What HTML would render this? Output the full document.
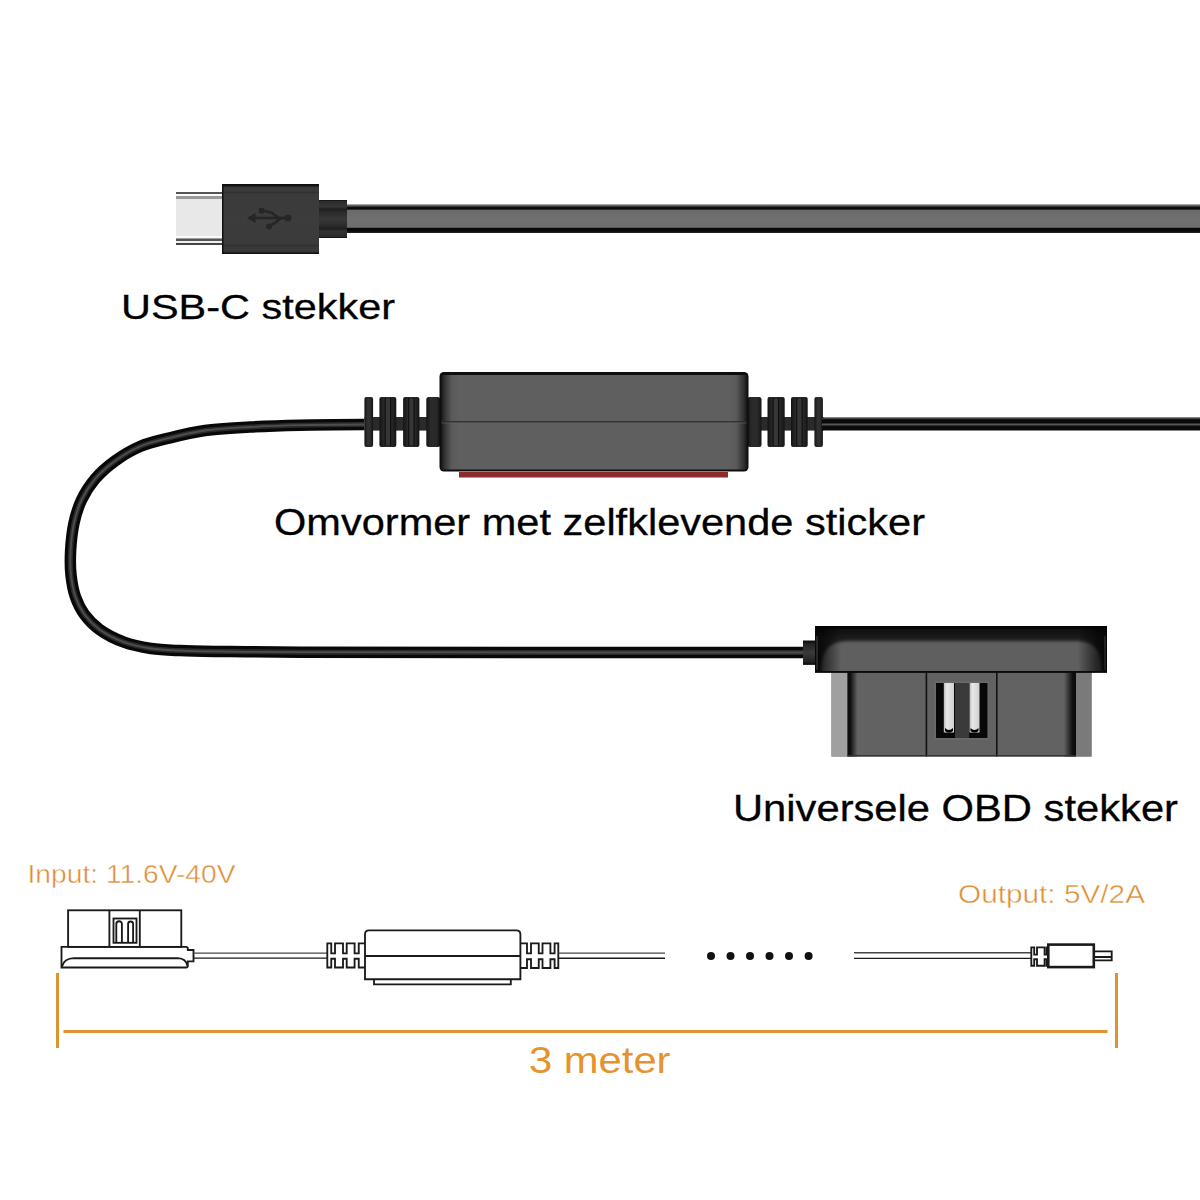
<!DOCTYPE html>
<html><head><meta charset="utf-8">
<style>
html,body{margin:0;padding:0;background:#fff;width:1200px;height:1200px;overflow:hidden}
svg{display:block;position:absolute;left:0;top:0}
text{font-family:"Liberation Sans",sans-serif}
</style></head>
<body>
<svg width="1200" height="1200" viewBox="0 0 1200 1200">
<defs>
  <linearGradient id="grom" x1="0" y1="0" x2="0" y2="1"><stop offset="0" stop-color="#1a1a1a"/><stop offset="0.25" stop-color="#2a2a2a"/><stop offset="0.5" stop-color="#3a3a3a"/><stop offset="0.75" stop-color="#2a2a2a"/><stop offset="1" stop-color="#1a1a1a"/></linearGradient>
  <linearGradient id="capdark" x1="0" y1="0" x2="0" y2="1"><stop offset="0" stop-color="#0a0a0a"/><stop offset="0.3" stop-color="#1e1e1e"/><stop offset="1" stop-color="#141414"/></linearGradient>
  <filter id="ib" x="-20%" y="-50%" width="140%" height="200%"><feGaussianBlur stdDeviation="0.7"/></filter>
  <clipPath id="capclip"><rect x="815" y="626" width="292" height="46"/></clipPath>
  <linearGradient id="bl" x1="0" y1="0" x2="1" y2="0"><stop offset="0" stop-color="#0a0a0a"/><stop offset="0.3" stop-color="#111"/><stop offset="1" stop-color="#626262"/></linearGradient>
  <linearGradient id="br" x1="0" y1="0" x2="1" y2="0"><stop offset="0" stop-color="#626262"/><stop offset="0.7" stop-color="#111"/><stop offset="1" stop-color="#0a0a0a"/></linearGradient>
  <filter id="soft" x="-10%" y="-50%" width="120%" height="200%"><feGaussianBlur stdDeviation="1.6"/></filter>
  <path id="cab" d="M364.0 424.5 C364.0 424.5 320.0 424.7 300.0 425.2 C282.3 425.6 266.2 426.1 250.0 427.0 C234.6 427.9 219.0 428.5 205.0 430.5 C192.5 432.3 181.2 435.0 170.0 437.8 C159.6 440.4 149.3 442.5 140.0 446.5 C131.0 450.3 122.6 455.5 115.0 461.0 C107.7 466.3 100.7 472.4 95.0 479.0 C89.6 485.4 85.0 492.6 81.5 500.0 C78.0 507.3 75.8 514.9 74.0 523.0 C72.1 531.8 71.1 542.0 70.6 551.0 C70.2 559.3 70.1 567.2 71.0 575.0 C71.8 582.5 73.1 590.2 75.5 597.0 C77.7 603.3 80.6 609.2 84.5 614.5 C88.5 620.0 93.5 625.1 99.5 629.5 C106.4 634.5 115.4 639.0 124.0 642.2 C132.6 645.4 141.8 647.1 151.0 648.5 C160.4 649.9 169.0 650.1 180.0 650.6 C194.4 651.3 211.9 651.3 230.0 651.6 C251.4 651.9 266.0 652.0 300.0 652.2 C391.1 652.6 803.0 652.5 803.0 652.5"/>
  <linearGradient id="flat" x1="0" y1="0" x2="0" y2="1">
    <stop offset="0" stop-color="#555"/>
    <stop offset="0.05" stop-color="#666"/>
    <stop offset="0.09" stop-color="#111"/>
    <stop offset="0.16" stop-color="#080808"/>
    <stop offset="0.2" stop-color="#6a6a6a"/>
    <stop offset="0.5" stop-color="#707070"/>
    <stop offset="0.8" stop-color="#6c6c6c"/>
    <stop offset="0.84" stop-color="#060606"/>
    <stop offset="0.94" stop-color="#0a0a0a"/>
    <stop offset="1" stop-color="#2a2a2a"/>
  </linearGradient>
  <linearGradient id="metal" x1="0" y1="0" x2="0" y2="1">
    <stop offset="0" stop-color="#555"/>
    <stop offset="0.032" stop-color="#555"/>
    <stop offset="0.042" stop-color="#fafafa"/>
    <stop offset="0.072" stop-color="#fafafa"/>
    <stop offset="0.08" stop-color="#999"/>
    <stop offset="0.124" stop-color="#9a9a9a"/>
    <stop offset="0.138" stop-color="#e8e8e8"/>
    <stop offset="0.83" stop-color="#e8e8e8"/>
    <stop offset="0.84" stop-color="#fafafa"/>
    <stop offset="0.87" stop-color="#fafafa"/>
    <stop offset="0.883" stop-color="#555"/>
    <stop offset="0.92" stop-color="#555"/>
    <stop offset="0.934" stop-color="#eee"/>
    <stop offset="0.958" stop-color="#eee"/>
    <stop offset="0.968" stop-color="#444"/>
    <stop offset="1" stop-color="#444"/>
  </linearGradient>
  <linearGradient id="usbbody" x1="0" y1="0" x2="0" y2="1">
    <stop offset="0" stop-color="#0a0a0a"/>
    <stop offset="0.03" stop-color="#1a1a1a"/>
    <stop offset="0.05" stop-color="#3a3a3a"/>
    <stop offset="0.1" stop-color="#3a3a3a"/>
    <stop offset="0.12" stop-color="#303030"/>
    <stop offset="0.14" stop-color="#3a3a3a"/>
    <stop offset="0.5" stop-color="#3c3c3c"/>
    <stop offset="0.86" stop-color="#3a3a3a"/>
    <stop offset="0.88" stop-color="#2e2e2e"/>
    <stop offset="0.9" stop-color="#393939"/>
    <stop offset="0.96" stop-color="#393939"/>
    <stop offset="1" stop-color="#0a0a0a"/>
  </linearGradient>
  <linearGradient id="neck" x1="0" y1="0" x2="0" y2="1">
    <stop offset="0" stop-color="#0a0a0a"/>
    <stop offset="0.03" stop-color="#2a2a2a"/>
    <stop offset="0.18" stop-color="#363636"/>
    <stop offset="0.24" stop-color="#1e1e1e"/>
    <stop offset="0.32" stop-color="#2a2a2a"/>
    <stop offset="0.5" stop-color="#383838"/>
    <stop offset="0.68" stop-color="#2a2a2a"/>
    <stop offset="0.76" stop-color="#1e1e1e"/>
    <stop offset="0.82" stop-color="#333"/>
    <stop offset="0.96" stop-color="#2a2a2a"/>
    <stop offset="1" stop-color="#0a0a0a"/>
  </linearGradient>
  <linearGradient id="boxh" x1="0" y1="0" x2="1" y2="0">
    <stop offset="0" stop-color="#151515"/>
    <stop offset="0.012" stop-color="#333"/>
    <stop offset="0.035" stop-color="#5a5a5a"/>
    <stop offset="0.06" stop-color="#5f5f5f"/>
    <stop offset="0.94" stop-color="#5f5f5f"/>
    <stop offset="0.965" stop-color="#5a5a5a"/>
    <stop offset="0.988" stop-color="#333"/>
    <stop offset="1" stop-color="#151515"/>
  </linearGradient>
  <linearGradient id="fin" x1="0" y1="0" x2="1" y2="0">
    <stop offset="0" stop-color="#141414"/>
    <stop offset="0.3" stop-color="#2a2a2a"/>
    <stop offset="0.7" stop-color="#2a2a2a"/>
    <stop offset="1" stop-color="#141414"/>
  </linearGradient>
  <linearGradient id="capv" x1="0" y1="0" x2="0" y2="1">
    <stop offset="0" stop-color="#050505"/>
    <stop offset="0.1" stop-color="#151515"/>
    <stop offset="0.3" stop-color="#222"/>
    <stop offset="0.34" stop-color="#555"/>
    <stop offset="0.5" stop-color="#5f5f5f"/>
    <stop offset="0.92" stop-color="#5c5c5c"/>
    <stop offset="1" stop-color="#111"/>
  </linearGradient>
  <linearGradient id="caph" x1="0" y1="0" x2="1" y2="0">
    <stop offset="0" stop-color="#000" stop-opacity="0.7"/>
    <stop offset="0.03" stop-color="#000" stop-opacity="0.55"/>
    <stop offset="0.09" stop-color="#000" stop-opacity="0"/>
    <stop offset="0.9" stop-color="#000" stop-opacity="0"/>
    <stop offset="0.965" stop-color="#000" stop-opacity="0.6"/>
    <stop offset="1" stop-color="#000" stop-opacity="0.75"/>
  </linearGradient>
  <linearGradient id="pin" x1="0" y1="0" x2="1" y2="0">
    <stop offset="0" stop-color="#bbb"/>
    <stop offset="0.3" stop-color="#e8e8e8"/>
    <stop offset="1" stop-color="#cfcfcf"/>
  </linearGradient>
</defs>

<!-- ===== USB-C plug ===== -->
<g id="usbc">
  <rect x="176" y="192" width="47" height="53" fill="url(#metal)"/>
  <rect x="222" y="184" width="97" height="70" fill="url(#usbbody)"/><rect x="222" y="184" width="1.5" height="70" fill="#111"/>
  <g fill="none" stroke="#252525" stroke-width="2.7" stroke-linecap="round" stroke-linejoin="round" filter="url(#ib)">
    <path d="M252 218 H287"/>
    <path d="M262 210.5 L271 212.5 L279 218"/>
    <path d="M269 226 L275 223 L281 218"/>
  </g>
  <g fill="#252525" filter="url(#ib)">
    <path d="M247 218 L255.5 213 L255.5 223 Z"/>
    <rect x="258.8" y="208" width="5.4" height="5.4" rx="1"/>
    <circle cx="269" cy="226.5" r="3"/>
    <circle cx="288" cy="218" r="3.6"/>
  </g>
  <rect x="319" y="200" width="28" height="38" fill="url(#neck)"/>
  <rect x="347" y="204.5" width="853" height="28.5" fill="url(#flat)"/>
</g>

<!-- ===== cable loop ===== -->
<g id="loop" fill="none" stroke-linecap="butt">
  <use href="#cab" stroke="#080808" stroke-width="11.5"/>
  <use href="#cab" stroke="#2a2a2a" stroke-width="5"/>
  <use href="#cab" stroke="#4e4e4e" stroke-width="1.8"/>
</g>

<!-- ===== converter ===== -->
<g id="conv">
  <!-- left strain relief -->
  <rect x="364.4" y="417" width="75" height="13.6" fill="#2a2a2a"/>
  <g fill="url(#fin)">
    <rect x="364.4" y="397" width="8.7" height="50" rx="2"/>
    <rect x="379.4" y="397" width="16.9" height="50" rx="2"/>
    <rect x="403.1" y="397" width="16.3" height="50" rx="2"/>
    <rect x="426.3" y="397" width="14" height="50" rx="2.5"/>
  </g>
  <g fill="#0e0e0e">
    <rect x="384.6" y="398" width="1.2" height="48"/><rect x="390" y="398" width="1.2" height="48"/>
    <rect x="408.2" y="398" width="1.2" height="48"/><rect x="413.4" y="398" width="1.2" height="48"/>
  </g>
  <g fill="#363636">
    <rect x="385.8" y="399" width="4.2" height="46"/><rect x="409.4" y="399" width="4" height="46"/>
    <rect x="367" y="399" width="3" height="46" opacity="0.6"/>
  </g>
  <!-- right strain relief -->
  <rect x="748.5" y="417" width="75" height="13.6" fill="#2a2a2a"/>
  <g fill="url(#fin)">
    <rect x="747.5" y="397" width="14" height="50" rx="2.5"/>
    <rect x="767.5" y="397" width="17.2" height="50" rx="2"/>
    <rect x="791" y="397" width="16.7" height="50" rx="2"/>
    <rect x="814.4" y="397" width="8.5" height="50" rx="2"/>
  </g>
  <g fill="#0e0e0e">
    <rect x="772.6" y="398" width="1.2" height="48"/><rect x="778" y="398" width="1.2" height="48"/>
    <rect x="796.2" y="398" width="1.2" height="48"/><rect x="801.4" y="398" width="1.2" height="48"/>
  </g>
  <g fill="#363636">
    <rect x="773.8" y="399" width="4.2" height="46"/><rect x="797.4" y="399" width="4" height="46"/>
    <rect x="817" y="399" width="3" height="46" opacity="0.6"/>
  </g>
  <!-- right cable -->
  <rect x="822" y="417.5" width="378" height="13" fill="#0a0a0a"/>
  <rect x="822" y="423.5" width="378" height="2" fill="#555"/>
  <rect x="822" y="418" width="378" height="1.2" fill="#444"/>
  <!-- red sticker -->
  <rect x="459" y="472" width="269" height="5.5" fill="#8c2a2c"/>
  <!-- box -->
  <rect x="439.5" y="372" width="309" height="99.6" rx="4.5" fill="#0e0e0e"/>
  <rect x="441" y="375" width="306" height="94.5" rx="2.5" fill="url(#boxh)"/>
  <rect x="441.5" y="421.2" width="305" height="1.3" fill="#2a2a2a"/><rect x="441.5" y="422.5" width="305" height="1" fill="#666" opacity="0.6"/>
</g>

<!-- ===== OBD ===== -->
<g id="obd">
  <rect x="803" y="640.7" width="13.3" height="24" fill="url(#grom)"/>
  <rect x="803" y="640.7" width="13.3" height="2" fill="#111"/>
  <rect x="803" y="662.7" width="13.3" height="2" fill="#111"/>
  <!-- body -->
  <rect x="831.5" y="672" width="260" height="84.5" fill="#626262"/>
  <rect x="831.5" y="672" width="16" height="84.5" fill="#a0a0a0"/>
  <rect x="1076" y="672" width="15.5" height="84.5" fill="#7a7a7a"/>
  <rect x="847.5" y="672" width="10" height="84.5" fill="url(#bl)"/>
  <rect x="1064" y="672" width="12" height="84.5" fill="url(#br)"/>
  <rect x="925.6" y="672" width="1.6" height="84.5" fill="#111"/>
  <rect x="996" y="672" width="1.6" height="84.5" fill="#111"/>
  <rect x="847.5" y="755" width="228" height="1.5" fill="#333"/>
  <!-- window -->
  <rect x="934.5" y="681.5" width="54.5" height="58" fill="#6a6a6a"/>
  <rect x="936" y="683" width="51.5" height="55" fill="#080808"/>
  <rect x="955" y="683" width="14" height="55" fill="#3a3a3a"/>
  <rect x="943.8" y="683" width="10.2" height="49.5" fill="url(#pin)"/>
  <rect x="969.5" y="683" width="10" height="49.5" fill="url(#pin)"/>
  <path d="M945 728 Q949 732 953 728 L953 731 Q949 734 945 731 Z" fill="#000"/>
  <path d="M970.5 728 Q974.5 732 978.5 728 L978.5 731 Q974.5 734 970.5 731 Z" fill="#000"/>
  <!-- cap -->
  <rect x="815" y="626" width="292" height="46.5" fill="url(#capdark)"/>
  <path d="M821 675 C821 650 828 641 850 641 H1074 C1096 641 1102 650 1102 675 Z" fill="#5f5f5f" filter="url(#soft)" clip-path="url(#capclip)"/>
  <rect x="815" y="626" width="292" height="2.5" fill="#050505"/>
  <rect x="815" y="626" width="292" height="46" fill="url(#caph)"/>
  <rect x="816" y="636" width="2" height="34" fill="#3a3a3a" opacity="0.6"/>
  <rect x="1104" y="636" width="2" height="34" fill="#3a3a3a" opacity="0.5"/>
  <rect x="815" y="671" width="292" height="1.8" fill="#0a0a0a"/>
</g>

<!-- ===== labels ===== -->
<text x="121" y="319" font-size="35.8" textLength="274" stroke="#000" stroke-width="0.3" lengthAdjust="spacingAndGlyphs" fill="#000">USB-C stekker</text>
<text x="274" y="535" font-size="37.8" textLength="651" stroke="#000" stroke-width="0.3" lengthAdjust="spacingAndGlyphs" fill="#000">Omvormer met zelfklevende sticker</text>
<text x="733" y="821" font-size="37.8" textLength="445" stroke="#000" stroke-width="0.3" lengthAdjust="spacingAndGlyphs" fill="#000">Universele OBD stekker</text>

<!-- ===== bottom diagram ===== -->
<text x="27.5" y="883" font-size="26" textLength="208" lengthAdjust="spacingAndGlyphs" fill="#dd8d33" stroke="#fff" stroke-width="0.45">Input: 11.6V-40V</text>
<text x="958" y="903" font-size="25" textLength="187" lengthAdjust="spacingAndGlyphs" fill="#dd8d33" stroke="#fff" stroke-width="0.45">Output: 5V/2A</text>
<text x="529" y="1073" font-size="36.5" textLength="141.5" lengthAdjust="spacingAndGlyphs" fill="#e4932f">3 meter</text>

<g id="draw" fill="none" stroke="#1a1a1a" stroke-width="1.85" stroke-linejoin="miter">
  <!-- OBD outline -->
  <rect x="68.1" y="910.3" width="113.2" height="36.6"/>
  <path d="M109.4 910.3 V946.9 M139.8 910.3 V946.9"/>
  <rect x="113.5" y="918.5" width="23" height="24.3"/>
  <path d="M116.3 942.8 V924 A2.8 2.8 0 0 1 121.9 924 V942.8"/>
  <path d="M128.1 942.8 V924 A2.5 2.5 0 0 1 133.1 924 V942.8"/>
  <path d="M61.5 946.9 H186 Q187.8 946.9 187.8 948.5 V950 H193.5 V961.3 H187.8 V966 Q187.8 967.5 186 967.5 H61.5 Z"/>
  <path d="M62 966.5 Q64 958.5 74 958.2 H178 Q186 958.5 187.5 966"/>
  <path d="M193.5 953.1 H327.3" stroke="#444" stroke-width="1.4"/><path d="M193.5 958.1 H327.3" stroke-width="1.4"/>
  <!-- converter drawing -->
  <path d="M365 943.3 H358.75 V953.3 H354.6 V943.3 H346.7 V953.3 H343 V943.3 H335 V953.3 H331.25 V943.3 H327.3 V967.5 H331.25 V958.75 H335 V967.5 H343 V958.75 H346.7 V967.5 H354.6 V958.75 H358.75 V967.5 H365"/>
  <path d="M365 979.2 V934.4 Q365 930.4 369 930.4 H516.4 Q520.4 930.4 520.4 934.4 V979.2 Z"/>
  <path d="M365 956 H520.4"/>
  <path d="M374 979.2 V984.3 H510.8 V979.2"/>
  <path d="M520.4 943.3 H527 V953.3 H531 V943.3 H538.75 V953.3 H542.5 V943.3 H550.4 V953.3 H554.6 V943.3 H558.3 V968 H554.6 V959.2 H550.4 V968 H542.5 V959.2 H538.75 V968 H531 V959.2 H527 V968 H520.4"/>
  <path d="M558.3 953.1 H665" stroke="#444" stroke-width="1.4"/><path d="M558.3 958.3 H665" stroke-width="1.4"/>
  <path d="M854 952.8 H1031.3" stroke="#444" stroke-width="1.4"/><path d="M854 958.4 H1031.3" stroke-width="1.4"/>
  <path d="M1048 947.3 H1046.7 V954.6 H1044.6 V947.3 H1037 V954.6 H1034.2 V947.3 H1031.3 V965.7 H1034.2 V959.2 H1037 V965.7 H1044.6 V959.2 H1046.7 V965.7 H1048"/>
  <rect x="1048.3" y="944.6" width="45.5" height="22.5" stroke-width="2.6"/>
  <path d="M1093.8 951.3 H1111.7 V960.4 H1093.8 M1093.8 957 H1111.7"/>
</g>
<g fill="#111">
  <circle cx="711" cy="956" r="4"/><circle cx="730.5" cy="956" r="4"/><circle cx="750" cy="956" r="4"/>
  <circle cx="769.5" cy="956" r="4"/><circle cx="789" cy="956" r="4"/><circle cx="808.6" cy="956" r="4"/>
</g>

<rect x="56" y="973" width="3" height="75" fill="#de9333"/>
<rect x="63.5" y="1030" width="1044" height="3" fill="#de9333"/>
<rect x="1115" y="973" width="3" height="75" fill="#de9333"/>

</svg>
</body></html>
